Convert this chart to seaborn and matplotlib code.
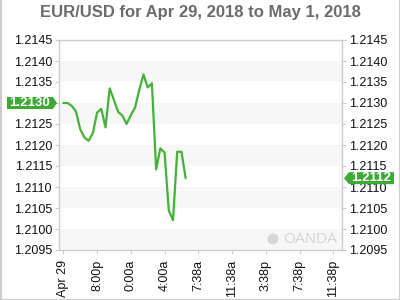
import matplotlib
matplotlib.use("Agg")
import matplotlib.pyplot as plt
from matplotlib.patches import Polygon, Circle
from matplotlib.transforms import IdentityTransform
from matplotlib.lines import Line2D
import seaborn as sns
import pandas as pd
import numpy as np

# ---- data (30-minute steps, hours since start) ----
prices = [1.21300, 1.21300, 1.21293, 1.21280, 1.21238, 1.21218, 1.21210, 1.21228,
          1.21277, 1.21286, 1.21242, 1.21335, 1.21307, 1.21279, 1.21270, 1.21250,
          1.21271, 1.21289, 1.21331, 1.21368, 1.21337, 1.21347, 1.21142, 1.21192,
          1.21182, 1.21044, 1.21021, 1.21184, 1.21184, 1.21121]
hours = [i * 0.5 for i in range(len(prices))]
xtick_pos = [0, 4, 8, 12, 16, 20, 24, 28, 32]
xtick_labels = ["Apr 29", "8:00p", "0:00a", "4:00a", "7:38a", "11:38a", "3:38p", "7:38p", "11:38p"]
ytick_vals = [1.2095, 1.2100, 1.2105, 1.2110, 1.2115, 1.2120, 1.2125, 1.2130, 1.2135, 1.2140, 1.2145]
first_label = "1.2130"
last_label = "1.2112"
title = "EUR/USD for Apr 29, 2018 to May 1, 2018"

df = pd.DataFrame({"hour": hours, "price": prices})

sns.set_style("white")
plt.rcParams["font.family"] = ["Liberation Sans", "DejaVu Sans"]

W, H = 400, 300
fig = plt.figure(figsize=(4, 3), dpi=100)
ax = fig.add_axes([59 / W, 50 / H, (342 - 59) / W, (250 - 40) / H])

green = "#3daa36"
sns.lineplot(data=df, x="hour", y="price", ax=ax, color="#44b138", linewidth=1.6)

ax.set_xlim(-0.51, 33.03)
ax.set_ylim(ytick_vals[0], ytick_vals[-1])

# alternating bands
for k in range(0, len(ytick_vals) - 1, 2):
    ax.axhspan(ytick_vals[k], ytick_vals[k + 1], color="#f7f7f7", zorder=0, lw=0)

ax.set_yticks(ytick_vals)
ax.set_yticklabels([f"{v:.4f}" for v in ytick_vals])
ax.set_xticks(xtick_pos)
ax.set_xticklabels(xtick_labels, rotation=90)
ax.tick_params(axis="y", left=True, right=True, labelleft=True, labelright=True,
               length=3, width=0.8, color="#cccccc", labelsize=9, labelcolor="#111111", pad=2)
ax.tick_params(axis="x", bottom=True, length=3, width=0.8, color="#cccccc",
               labelsize=9, labelcolor="#111111", pad=4)
ax.set_xlabel("")
ax.set_ylabel("")
for s in ax.spines.values():
    s.set_color("#cccccc")
    s.set_linewidth(1.0)
    s.set_visible(True)

# title
fig.text(0.5, 1 - 13 / H, title, ha="center", va="center", fontsize=12,
         fontweight="bold", color="#6b6b6b")

# price tags (drawn over the tick labels, as in the reference)
def tag(value, text, side):
    y = ax.transData.transform((0, value))[1]
    h = 6
    if side == "left":
        x0, x1, tip = 7, 53, 57
        verts = [(x0, y - h), (x1, y - h), (tip, y), (x1, y + h), (x0, y + h)]
    else:
        x0, x1, tip = 349, 394, 344
        verts = [(x0, y - h), (x1, y - h), (x1, y + h), (x0, y + h), (tip, y)]
    cx = (x0 + x1) / 2
    fig.add_artist(Polygon(verts, closed=True, transform=IdentityTransform(),
                           facecolor=green, edgecolor="none", zorder=10))
    fig.text(cx, y, text, transform=IdentityTransform(), ha="center", va="center",
             fontsize=9.5, fontweight="bold", color="white", zorder=11)

tag(prices[0], first_label, "left")
tag(prices[-1], last_label, "right")

# watermark
fig.add_artist(Circle((273, 300 - 239), 5.5, transform=IdentityTransform(),
                      facecolor="#d6d6d6", edgecolor="none", zorder=5))
fig.text(283, 300 - 239, "OANDA", transform=IdentityTransform(), ha="left", va="center",
         fontsize=11, color="#d6d6d6", zorder=5)

# outer border (left, right, bottom)
bc = "#cccccc"
fig.add_artist(Line2D([0.5, 0.5], [0, 300], transform=IdentityTransform(), color=bc, lw=1.5))
fig.add_artist(Line2D([399.5, 399.5], [0, 300], transform=IdentityTransform(), color=bc, lw=1.5))
fig.add_artist(Line2D([0, 400], [0.5, 0.5], transform=IdentityTransform(), color=bc, lw=1.5))

fig.savefig("out.png", dpi=100)
